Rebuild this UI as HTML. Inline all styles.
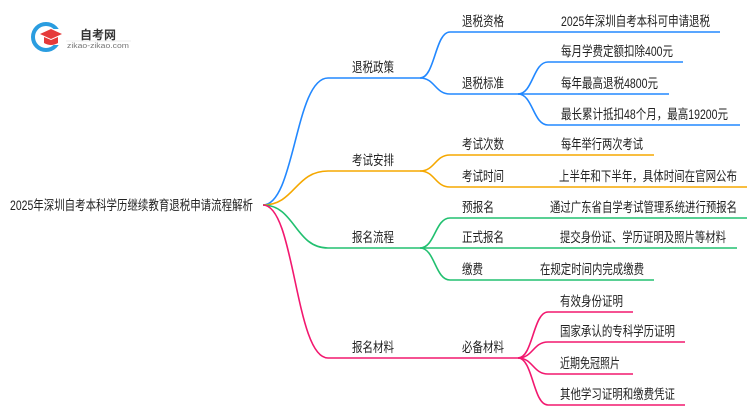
<!DOCTYPE html>
<html><head><meta charset="utf-8"><style>
body{margin:0;background:#fff;width:750px;height:410px;overflow:hidden}
text{font-family:"Liberation Sans","Noto Sans CJK SC",sans-serif;font-size:13.5px;fill:#222}
</style></head><body>
<svg width="750" height="410" viewBox="0 0 750 410" xmlns="http://www.w3.org/2000/svg">
<g fill="none" stroke-width="1.6">
<path d="M263,205 C295,205 295,78 328,78 L420,78" stroke="#2288ff"/>
<path d="M263,205 C295,205 295,171 328,171 L420,171" stroke="#f5a800"/>
<path d="M263,205 C295,205 295,248 328,248 L420,248" stroke="#22c070"/>
<path d="M263,205 C295,205 295,358 328,358 L518,358" stroke="#f2186f"/>
<path d="M420,78 C435,78 435,32 450,32 L720,32" stroke="#2288ff"/>
<path d="M420,78 C435,78 435,94 450,94 L518,94" stroke="#2288ff"/>
<path d="M518,94 C533,94 533,62 548,62 L683,62" stroke="#2288ff"/>
<path d="M518,94 L669,94" stroke="#2288ff"/>
<path d="M518,94 C533,94 533,125 548,125 L740,125" stroke="#2288ff"/>
<path d="M420,171 C435,171 435,155 450,155 L654,155" stroke="#f5a800"/>
<path d="M420,171 C435,171 435,187 450,187 L747,187" stroke="#f5a800"/>
<path d="M420,248 C435,248 435,218 450,218 L747,218" stroke="#22c070"/>
<path d="M420,248 L737,248" stroke="#22c070"/>
<path d="M420,248 C435,248 435,280 450,280 L654,280" stroke="#22c070"/>
<path d="M518,358 C533,358 533,312 548,312 L633,312" stroke="#f2186f"/>
<path d="M518,358 C533,358 533,342 548,342 L685,342" stroke="#f2186f"/>
<path d="M518,358 C533,358 533,374 548,374 L633,374" stroke="#f2186f"/>
<path d="M518,358 C533,358 533,405 548,405 L685,405" stroke="#f2186f"/>
</g>
<circle cx="46" cy="37" r="13" fill="none" stroke="#2a9de0" stroke-width="4"/>
<rect x="53" y="29" width="12" height="16" fill="#fff"/>
<path d="M40,34 L51,29 L62,34 L51,39 Z" fill="#e53a3a"/>
<path d="M44,37 L44,43 Q51,47 58,43 L58,37 L51,40 Z" fill="#e53a3a"/>
<text x="80" y="39" textLength="36" lengthAdjust="spacingAndGlyphs" style="font-size:12px;font-weight:bold;fill:#333">自考网</text>
<line x1="66" y1="41" x2="131" y2="41" stroke="#ddd" stroke-width="0.6"/>
<text x="67" y="48" textLength="62" lengthAdjust="spacingAndGlyphs" style="font-size:7px;fill:#777">zikao-zikao.com</text>
<g>
<text x="10" y="210" textLength="243" lengthAdjust="spacingAndGlyphs">2025年深圳自考本科学历继续教育退税申请流程解析</text>
<text x="352" y="72" textLength="42" lengthAdjust="spacingAndGlyphs">退税政策</text>
<text x="352" y="165" textLength="42" lengthAdjust="spacingAndGlyphs">考试安排</text>
<text x="352" y="242" textLength="42" lengthAdjust="spacingAndGlyphs">报名流程</text>
<text x="352" y="352" textLength="42" lengthAdjust="spacingAndGlyphs">报名材料</text>
<text x="462" y="26" textLength="42" lengthAdjust="spacingAndGlyphs">退税资格</text>
<text x="462" y="88" textLength="42" lengthAdjust="spacingAndGlyphs">退税标准</text>
<text x="561" y="26" textLength="149" lengthAdjust="spacingAndGlyphs">2025年深圳自考本科可申请退税</text>
<text x="561" y="56" textLength="112" lengthAdjust="spacingAndGlyphs">每月学费定额扣除400元</text>
<text x="561" y="88" textLength="97" lengthAdjust="spacingAndGlyphs">每年最高退税4800元</text>
<text x="561" y="119" textLength="167" lengthAdjust="spacingAndGlyphs">最长累计抵扣48个月，最高19200元</text>
<text x="462" y="149" textLength="42" lengthAdjust="spacingAndGlyphs">考试次数</text>
<text x="462" y="181" textLength="42" lengthAdjust="spacingAndGlyphs">考试时间</text>
<text x="561" y="149" textLength="82" lengthAdjust="spacingAndGlyphs">每年举行两次考试</text>
<text x="559" y="181" textLength="178" lengthAdjust="spacingAndGlyphs">上半年和下半年，具体时间在官网公布</text>
<text x="462" y="212" textLength="32" lengthAdjust="spacingAndGlyphs">预报名</text>
<text x="462" y="242" textLength="42" lengthAdjust="spacingAndGlyphs">正式报名</text>
<text x="462" y="274" textLength="21" lengthAdjust="spacingAndGlyphs">缴费</text>
<text x="550" y="212" textLength="187" lengthAdjust="spacingAndGlyphs">通过广东省自学考试管理系统进行预报名</text>
<text x="560" y="242" textLength="166" lengthAdjust="spacingAndGlyphs">提交身份证、学历证明及照片等材料</text>
<text x="540" y="274" textLength="104" lengthAdjust="spacingAndGlyphs">在规定时间内完成缴费</text>
<text x="462" y="352" textLength="42" lengthAdjust="spacingAndGlyphs">必备材料</text>
<text x="560" y="306" textLength="63" lengthAdjust="spacingAndGlyphs">有效身份证明</text>
<text x="560" y="336" textLength="115" lengthAdjust="spacingAndGlyphs">国家承认的专科学历证明</text>
<text x="560" y="368" textLength="60" lengthAdjust="spacingAndGlyphs">近期免冠照片</text>
<text x="560" y="399" textLength="115" lengthAdjust="spacingAndGlyphs">其他学习证明和缴费凭证</text>
</g>
</svg>
</body></html>
